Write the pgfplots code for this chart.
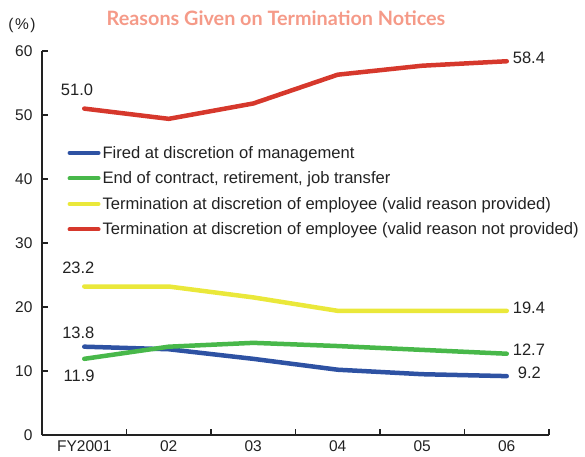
\documentclass[border=0pt]{standalone}
\usepackage{pgfplots}
\pgfplotsset{compat=1.18}
\usepackage{fontspec}
\setmainfont{Liberation Sans}
\newfontfamily\titlefont{Lato}
\definecolor{cred}{HTML}{D6382C}
\definecolor{cblue}{HTML}{2E52A3}
\definecolor{cgreen}{HTML}{48B84A}
\definecolor{cyellow}{HTML}{EAE83A}
\definecolor{ctitle}{HTML}{F59A88}
\definecolor{ctext}{HTML}{222222}
\pgfplotstableread{
x blue green yellow red
0 13.8 11.9 23.2 51.0
1 13.4 13.8 23.2 49.4
2 11.9 14.4 21.5 51.8
3 10.2 13.9 19.4 56.3
4 9.5 13.3 19.4 57.7
5 9.2 12.7 19.4 58.4
}\datatable
\begin{document}
\begin{tikzpicture}[x=1pt,y=1pt]
\path[use as bounding box] (0,0) rectangle (585,456);
\begin{axis}[
  at={(42pt,21pt)}, anchor=south west,
  scale only axis, width=507pt, height=384pt,
  xmin=-0.5, xmax=5.5, ymin=0, ymax=60,
  axis x line*=bottom, axis y line*=left,
  xtick={-0.5,0.5,1.5,2.5,3.5,4.5,5.5},
  xticklabels={FY2001,02,03,04,05,06},
  x tick label as interval,
  ytick={0,10,...,60},
  tick align=inside, major tick length=6pt,
  axis line style={line width=1.6pt, ctext},
  tick style={line width=1.4pt, ctext},
  ticklabel style={font=\fontsize{15.5}{15.5}\selectfont, text=ctext},
  /pgf/number format/assume math mode=true,
  yticklabel style={xshift=-6pt},
  xticklabel style={yshift=-2pt},
  clip=false,
  legend style={draw=none, fill=none, at={(0.05,0.758)}, anchor=north west,
    font=\fontsize{16.6}{16.6}\selectfont, text=ctext, row sep=8pt, inner sep=0pt},
  legend cell align=left,
  legend image code/.code={\draw[#1, line width=4pt, line cap=round] (0pt,0pt) -- (29pt,0pt);},
  every axis plot/.append style={line width=4.5pt, line join=round, line cap=round},
]
\addplot[cblue] table[x=x,y=blue]{\datatable};
\addlegendentry{Fired at discretion of management}
\addplot[cgreen] table[x=x,y=green]{\datatable};
\addlegendentry{End of contract, retirement, job transfer}
\addplot[cyellow] table[x=x,y=yellow]{\datatable};
\addlegendentry{Termination at discretion of employee (valid reason provided)}
\addplot[cred] table[x=x,y=red]{\datatable};
\addlegendentry{Termination at discretion of employee (valid reason not provided)}
\begin{scope}[every node/.style={font=\fontsize{16.5}{16.5}\selectfont, text=ctext}]
\node at (axis cs:-0.086,53.9) {51.0};
\node at (axis cs:-0.07,26.1) {23.2};
\node at (axis cs:-0.07,15.9) {13.8};
\node at (axis cs:-0.06,9.2) {11.9};
\node[anchor=west, inner sep=0pt] at (axis cs:5.07,58.9) {58.4};
\node[anchor=west, inner sep=0pt] at (axis cs:5.07,19.8) {19.4};
\node[anchor=west, inner sep=0pt] at (axis cs:5.07,13.3) {12.7};
\node[anchor=west, inner sep=0pt] at (axis cs:5.13,9.7) {9.2};
\end{scope}
\end{axis}
\node[font=\titlefont\bfseries\fontsize{19.8}{19.8}\selectfont, text=ctitle] at (276,438) {Reasons Given on Termination Notices};
\node[font=\fontsize{15.5}{15.5}\selectfont, text=ctext] at (22,431) {(\kern1.5pt\%\kern1.5pt)};
\end{tikzpicture}
\end{document}
